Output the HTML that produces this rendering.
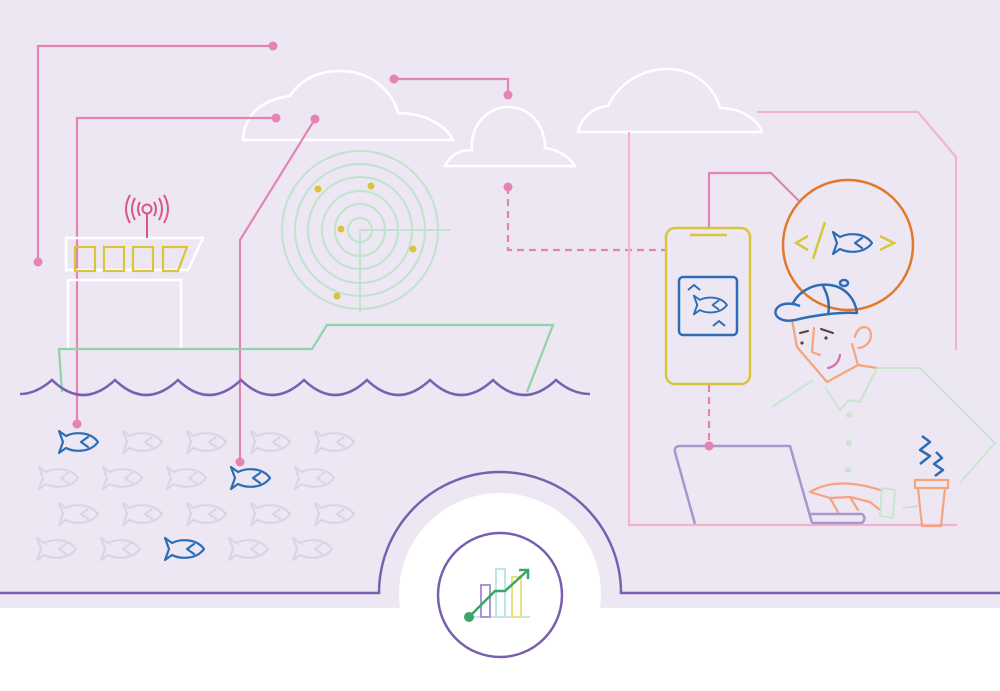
<!DOCTYPE html>
<html><head><meta charset="utf-8"><style>
html,body{margin:0;padding:0;background:#fff;}
svg{display:block;}
</style></head><body>
<svg width="1000" height="691" viewBox="0 0 1000 691" xmlns="http://www.w3.org/2000/svg" font-family="Liberation Sans, sans-serif">
<defs>
<g id="fish">
<path d="M-12,-6 C-4,-10 12,-11 20,0 C12,11 -4,10 -12,6 L-19,11 L-15,0 L-19,-11 Z" fill="none" stroke-width="2.2" stroke-linejoin="round"/>
<path d="M10,-5 L3,0 L10,5" fill="none" stroke-width="2.2" stroke-linecap="round" stroke-linejoin="round"/>
</g>
</defs>
<rect x="0" y="0" width="1000" height="608" fill="#ede7f3"/>
<rect x="0" y="608" width="1000" height="83" fill="#fff"/>
<circle cx="500" cy="594" r="101" fill="#fff"/>
<path d="M0,593 L379,593 A121,121 0 0 1 621,593 L1000,593" fill="none" stroke="#7a5fb0" stroke-width="2.5"/>
<circle cx="500" cy="595" r="62" fill="none" stroke="#7a5fb0" stroke-width="2.5"/>
<line x1="470" y1="617" x2="530" y2="617" stroke="#c8e6ef" stroke-width="2"/>
<rect x="481" y="585" width="9" height="32" fill="none" stroke="#a996cf" stroke-width="2"/>
<rect x="496" y="569" width="9" height="48" fill="none" stroke="#bfe5e6" stroke-width="2"/>
<rect x="512" y="577" width="9" height="40" fill="none" stroke="#e8e27a" stroke-width="2"/>
<path d="M469,617 L495,591 L505,591 L527,571" fill="none" stroke="#3aa56b" stroke-width="2.5"/>
<path d="M519,570 L528,570 L528,579" fill="none" stroke="#3aa56b" stroke-width="2.5"/>
<circle cx="469" cy="617" r="5" fill="#3aa56b"/>

<g fill="none" stroke="#fff" stroke-width="2.5">
<path d="M243,140 C244,118 258,100 290,96 C300,80 318,71 340,71 C370,71 392,90 398,113 C425,113 445,125 453,140 Z"/>
<path d="M445,166 C450,155 460,150 472,150 C470,125 488,107 508,107 C530,107 545,125 545,148 C560,150 570,158 575,166 Z"/>
<path d="M578,132 C580,120 592,107 608,106 C618,85 640,69 668,69 C695,69 715,88 720,108 C742,108 758,120 762,132 Z"/>
</g>

<g fill="none" stroke="#e384b5" stroke-width="2.2">
<path d="M273,46 L38,46 L38,262"/>
<path d="M276,118 L77,118 L77,424"/>
<path d="M315,119 L240,240 L240,462"/>
<path d="M394,79 L508,79 L508,95"/>
<path d="M508,187 L508,250 L665,250" stroke-dasharray="7,5"/>
<path d="M709,228 L709,173 L771,173 L800,202"/>
<path d="M709,385 L709,446" stroke-dasharray="7,5"/>
</g>
<g fill="#e384b5">
<circle cx="273" cy="46" r="4.5"/><circle cx="38" cy="262" r="4.5"/>
<circle cx="276" cy="118" r="4.5"/><circle cx="77" cy="424" r="4.5"/>
<circle cx="315" cy="119" r="4.5"/><circle cx="240" cy="462" r="4.5"/>
<circle cx="394" cy="79" r="4.5"/><circle cx="508" cy="95" r="4.5"/>
<circle cx="508" cy="187" r="4.5"/><circle cx="709" cy="446" r="4.5"/>
</g>
<g fill="none" stroke="#f2b3cf" stroke-width="2.2">
<path d="M629,132 L629,525 L957,525"/>
<path d="M757,112 L918,112 L956,157 L956,350"/>
</g>

<g fill="none" stroke="#bfe3cc" stroke-width="2">
<ellipse cx="360" cy="230" rx="78" ry="79"/>
<ellipse cx="360" cy="230" rx="65" ry="66"/>
<ellipse cx="360" cy="230" rx="52" ry="53"/>
<ellipse cx="360" cy="230" rx="38" ry="39"/>
<ellipse cx="360" cy="230" rx="25" ry="26"/>
<ellipse cx="360" cy="230" rx="12" ry="12"/>
<path d="M360,230 L450,230 M360,230 L360,313"/>
</g>
<g fill="#d9c53a">
<circle cx="318" cy="189" r="3.5"/><circle cx="371" cy="186" r="3.5"/>
<circle cx="341" cy="229" r="3.5"/><circle cx="413" cy="249" r="3.5"/>
<circle cx="337" cy="296" r="3.5"/>
</g>

<g fill="none" stroke="#fff" stroke-width="2.5">
<path d="M66,238 L203,238 L188,270 L66,270 Z"/>
<path d="M68,348 L68,280 L181,280 L181,348"/>
</g>
<g fill="none" stroke="#d9c53a" stroke-width="2.2">
<rect x="75" y="247" width="20" height="24"/>
<rect x="104" y="247" width="20" height="24"/>
<rect x="133" y="247" width="20" height="24"/>
<path d="M163,247 L187,247 L178,271 L163,271 Z"/>
</g>
<g fill="none" stroke="#d9587f" stroke-width="2">
<circle cx="147" cy="209" r="4.5"/>
<line x1="147" y1="214" x2="147" y2="238"/>
<path d="M140,202 Q136,209 140,216"/>
<path d="M154,202 Q158,209 154,216"/>
<path d="M135,198 Q129,209 135,220"/>
<path d="M159,198 Q165,209 159,220"/>
<path d="M130,195 Q122,209 130,223"/>
<path d="M164,195 Q172,209 164,223"/>
</g>
<path d="M62,392 L59,349 L312,349 L327,325 L553,325 L527,392" fill="none" stroke="#8fd3a8" stroke-width="2.2"/>
<path d="M20,394 Q36,394 52,380 Q83,410 115,380 Q146,410 178,380 Q209,410 241,380 Q272,410 304,380 Q335,410 367,380 Q398,410 430,380 Q461,410 493,380 Q524,410 556,380 Q572,394 590,394" fill="none" stroke="#7a5fb0" stroke-width="2.5"/>

<g stroke="#dcd3e8">
<use href="#fish" x="142" y="442"/><use href="#fish" x="206" y="442"/><use href="#fish" x="270" y="442"/><use href="#fish" x="334" y="442"/>
<use href="#fish" x="58" y="478"/><use href="#fish" x="122" y="478"/><use href="#fish" x="186" y="478"/><use href="#fish" x="314" y="478"/>
<use href="#fish" x="78" y="514"/><use href="#fish" x="142" y="514"/><use href="#fish" x="206" y="514"/><use href="#fish" x="270" y="514"/><use href="#fish" x="334" y="514"/>
<use href="#fish" x="56" y="549"/><use href="#fish" x="120" y="549"/><use href="#fish" x="248" y="549"/><use href="#fish" x="312" y="549"/>
</g>
<g stroke="#2d6db5">
<use href="#fish" x="78" y="442"/><use href="#fish" x="250" y="478"/><use href="#fish" x="184" y="549"/>
</g>

<rect x="666" y="228" width="84" height="156" rx="9" fill="none" stroke="#d9c53a" stroke-width="2.5"/>
<line x1="690" y1="235" x2="727" y2="235" stroke="#d9c53a" stroke-width="2.5"/>
<rect x="679" y="277" width="58" height="58" rx="4" fill="none" stroke="#2d6db5" stroke-width="2.5"/>
<g stroke="#2d6db5"><use href="#fish" x="710" y="305" transform="translate(710,305) scale(0.85) translate(-710,-305)"/></g>
<path d="M688,290 L694,285 L700,290 M713,326 L719,321 L725,326" fill="none" stroke="#2d6db5" stroke-width="2"/>

<circle cx="848" cy="245" r="65" fill="none" stroke="#e07a2a" stroke-width="2.5"/>
<path d="M808,236 L796,243 L808,250 M825,222 L813,259 M880,236 L894,243 L880,250" fill="none" stroke="#d9c53a" stroke-width="2.5"/>
<g stroke="#2d6db5"><use href="#fish" x="852" y="243"/></g>

<g fill="none" stroke="#f5a47c" stroke-width="2.2" stroke-linecap="round" stroke-linejoin="round">
<path d="M792,320 L797,347 L827,382 L858,365 L852,344"/>
<path d="M855,337 C858,322 875,325 870,340 C868,345 862,348 858,348"/>
<path d="M858,365 L877,368"/>
<path d="M814,328 L812,352 L820,355"/>
<path d="M810,492 C830,480 855,482 880,490 M810,492 L830,498 L838,512 M830,498 L850,497 L858,510 M850,497 L870,502 L880,510"/>
<path d="M915,480 L948,480 L948,488 L915,488 Z M918,488 L922,526 L941,526 L945,488"/>
</g>
<path d="M800,333 L808,331 M821,329 L833,333" stroke="#5a4036" stroke-width="2" stroke-linecap="round"/>
<circle cx="802" cy="343" r="1.6" fill="#5a4036"/><circle cx="826" cy="338" r="1.6" fill="#5a4036"/>
<path d="M828,368 Q838,366 840,355" fill="none" stroke="#d46fb3" stroke-width="2.2" stroke-linecap="round"/>
<g fill="none" stroke="#2d6db5" stroke-width="2.5" stroke-linejoin="round">
<path d="M793,303 C800,290 815,283 830,285 C845,287 855,298 857,313 C840,312 815,315 795,320 C780,323 772,315 777,308 C782,302 793,303 800,306"/>
<path d="M823,286 C828,295 830,305 828,315"/>
<ellipse cx="844" cy="283" rx="4" ry="3"/>
<path d="M922,436 L930,442 L920,450 L930,456 L920,464 M936,452 L942,458 L934,464 L943,470 L935,476"/>
</g>
<g fill="none" stroke="#c8e6cf" stroke-width="2" stroke-linejoin="round">
<path d="M772,407 L813,380"/>
<path d="M825,387 L840,410 L849,400 M877,368 L860,402 L849,400"/>
<path d="M877,368 L920,368 L995,443 L960,483"/>
<path d="M903,508 L918,506"/>
<path d="M882,488 L895,490 L893,518 L880,516 Z"/>
</g>
<g fill="#c8e6cf"><circle cx="849" cy="415" r="3"/><circle cx="849" cy="443" r="3"/><circle cx="848" cy="470" r="3"/></g>
<g fill="none" stroke="#a996cf" stroke-width="2.5" stroke-linejoin="round">
<path d="M695,524 L675,452 Q674,446 680,446 L790,446 L812,523"/>
<path d="M810,514 L862,514 Q867,518 862,523 L812,523"/>
</g>
<circle cx="709" cy="446" r="4.5" fill="#e384b5"/>
</svg>
</body></html>
